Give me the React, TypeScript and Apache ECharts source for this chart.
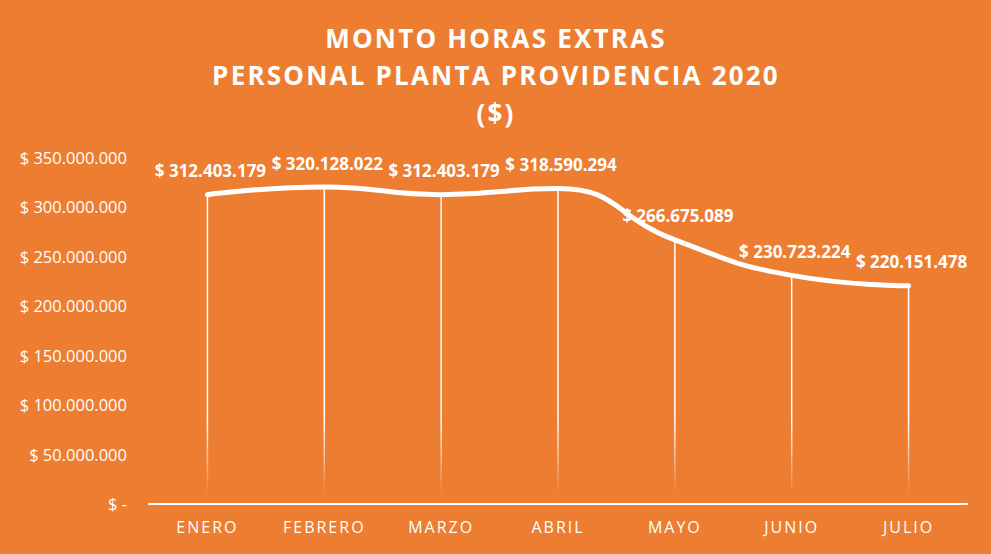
import React, { useEffect, useRef } from "react";
import * as echarts from "echarts";

const categories = ["ENERO", "FEBRERO", "MARZO", "ABRIL", "MAYO", "JUNIO", "JULIO"];
const montos = [312403179, 320128022, 312403179, 318590294, 266675089, 230723224, 220151478];
const titleLines = ["MONTO HORAS EXTRAS", "PERSONAL PLANTA PROVIDENCIA 2020", "($)"];

const fmt = (v: number) => v.toLocaleString("de-DE");

const css = `
#root text[style*="26px"] { letter-spacing: 2.2px; }
#root text[style*="16px"] { letter-spacing: 2px; }
`;

export default function App() {
  const ref = useRef<HTMLDivElement>(null);
  useEffect(() => {
    if (!ref.current) return;
    const chart = echarts.init(ref.current, undefined, { renderer: "svg" });
    const font = "'Open Sans', Lato, sans-serif";
    const titleY = [38, 75, 113];
    chart.setOption({
      animation: false,
      backgroundColor: "#ED7D31",
      graphic: titleLines.map((t, i) => ({
        type: "text",
        x: 496,
        y: titleY[i],
        style: {
          text: t,
          fill: "#ffffff",
          font: `bold 26px ${font}`,
          textAlign: "center",
          textVerticalAlign: "middle",
        },
      })),
      grid: { left: 149, right: 24, top: 157.5, bottom: 50.5, containLabel: false },
      xAxis: {
        type: "category",
        data: categories,
        axisLine: { show: true, lineStyle: { color: "#ffffff", width: 2 } },
        axisTick: { show: false },
        axisLabel: { color: "#ffffff", fontFamily: font, fontSize: 16, margin: 15 },
      },
      yAxis: {
        type: "value",
        min: 0,
        max: 350000000,
        interval: 50000000,
        splitLine: { show: false },
        axisLine: { show: false },
        axisTick: { show: false },
        axisLabel: {
          color: "#ffffff",
          fontFamily: font,
          fontSize: 16.5,
          margin: 22,
          formatter: (v: number) => (v === 0 ? "$ -" : "$ " + fmt(v)),
        },
      },
      series: [
        {
          type: "bar",
          data: montos,
          barWidth: 1.5,
          z: 1,
          itemStyle: {
            color: new echarts.graphic.LinearGradient(
              0, 420, 0, 495,
              [
                { offset: 0, color: "rgba(255,255,255,1)" },
                { offset: 1, color: "rgba(255,255,255,0)" },
              ],
              true
            ),
          },
        },
        {
          type: "line",
          data: montos,
          smooth: 0.5,
          z: 3,
          symbol: "circle",
          symbolSize: 1,
          showSymbol: true,
          itemStyle: { color: "rgba(255,255,255,0)" },
          lineStyle: { color: "#ffffff", width: 5, cap: "round" },
          label: {
            show: true,
            position: "top",
            distance: 15,
            offset: [3, 0],
            color: "#ffffff",
            fontFamily: font,
            fontWeight: "bold",
            fontSize: 17,
            formatter: (p: any) => "$ " + fmt(p.value),
          },
        },
      ],
    });
    return () => chart.dispose();
  }, []);
  return (
    <>
      <style>{css}</style>
      <div ref={ref} style={{ width: 991, height: 554, position: "absolute", left: 0, top: 0 }} />
    </>
  );
}
